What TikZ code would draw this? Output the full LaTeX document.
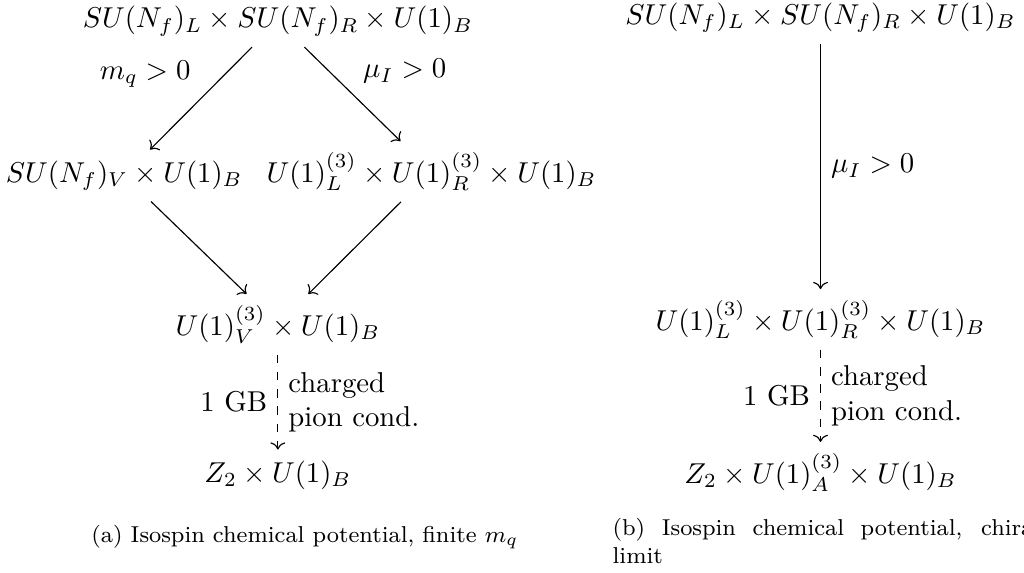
\documentclass[tikz,border=0pt]{standalone}
\usepackage{amsmath,amssymb}
\usepackage{tikz}
\usetikzlibrary{arrows.meta,positioning}

\begin{document}
\begin{tikzpicture}[
    grp/.style = {inner xsep=1ex, inner ysep=0.85ex},
    arrow/.style = {-{Computer Modern Rightarrow}, line width=0.4pt},
    darrow/.style = {arrow, dashed},
    elabel/.style = {inner sep=3.5pt},
    subcap/.style = {font=\footnotesize, inner sep=0pt}
  ]
    %% ---- page: clip, caption (b) runs past the right edge ----
    \clip (0,0) rectangle (12.53,7.00);

    %% ---- (a) finite quark mass: diamond of breakings ----
    \node[grp, anchor=base] (topA) at (3.40,6.66)
      {$SU(N_f)_L \times SU(N_f)_R \times U(1)_B$};
    \node[grp, anchor=base] (midVA) at (1.52,4.77)
      {$SU(N_f)_V \times U(1)_B$};
    \node[grp, anchor=base] (midLRA) at (5.28,4.77)
      {$U(1)_L^{(3)} \times U(1)_R^{(3)} \times U(1)_B$};
    \node[grp, anchor=base] (lowA) at (3.40,2.90)
      {$U(1)_V^{(3)} \times U(1)_B$};
    \node[grp, anchor=base] (botA) at (3.40,1.10)
      {$Z_2 \times U(1)_B$};

    \draw[arrow] (topA) -- node[elabel, above left] {$m_q > 0$} (midVA);
    \draw[arrow] (topA) -- node[elabel, above right] {$\mu_I > 0$} (midLRA);
    \draw[arrow] (midVA) -- (lowA);
    \draw[arrow] (midLRA) -- (lowA);
    \draw[darrow] (lowA) -- node[elabel, left] {1 GB}
      node[elabel, right, align=left] {charged\\pion cond.} (botA);

    %% ---- (b) chiral limit: one straight chain ----
    \node[grp, anchor=base] (topB) at (10.04,6.70)
      {$SU(N_f)_L \times SU(N_f)_R \times U(1)_B$};
    \node[grp, anchor=base] (midB) at (10.04,2.96)
      {$U(1)_L^{(3)} \times U(1)_R^{(3)} \times U(1)_B$};
    \node[grp, anchor=base] (botB) at (10.04,1.09)
      {$Z_2 \times U(1)_A^{(3)} \times U(1)_B$};

    \draw[arrow] (topB) -- node[elabel, right] {$\mu_I > 0$} (midB);
    \draw[darrow] (midB) -- node[elabel, left] {1 GB}
      node[elabel, right, align=left] {charged\\pion cond.} (botB);

    %% ---- sub-captions ----
    \node[subcap, anchor=base] (capA) at (3.73,0.36)
      {(a) Isospin chemical potential, finite $m_q$};
    \node[subcap, anchor=north west, text width=5.23cm, align=justify]
      (capB) at (7.49,0.66)
      {(b) Isospin chemical potential, chiral limit};

  \end{tikzpicture}
\end{document}
